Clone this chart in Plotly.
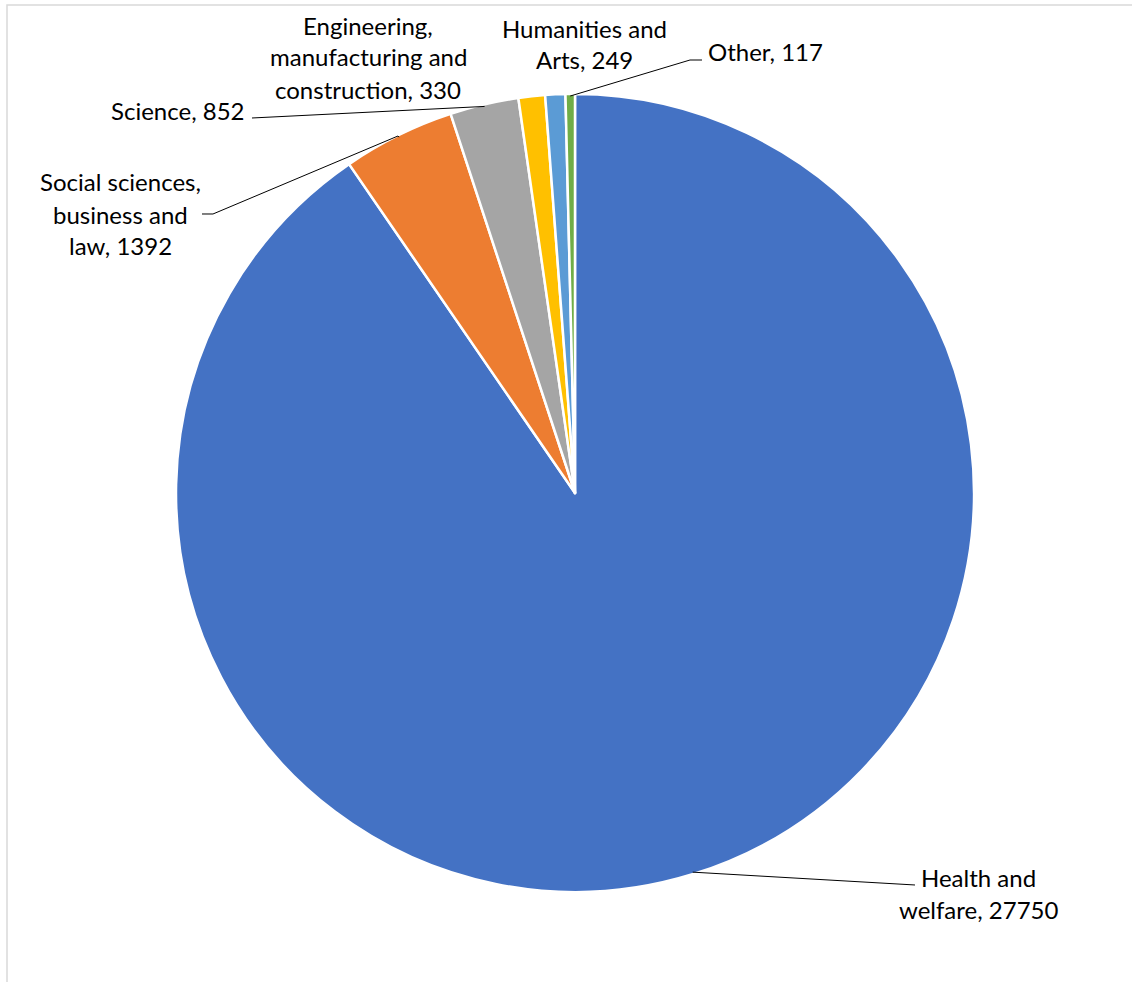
import math
import plotly.graph_objects as go

categories = ["Health and welfare", "Social sciences, business and law", "Science",
              "Engineering, manufacturing and construction", "Humanities and Arts", "Other"]
values = [27750, 1392, 852, 330, 249, 117]
colors = ["#4472C4", "#ED7D31", "#A5A5A5", "#FFC000", "#5B9BD5", "#70AD47"]
label_lines = [["Health and", "welfare, 27750"], ["Social sciences,", "business and", "law, 1392"],
               ["Science, 852"], ["Engineering,", "manufacturing and", "construction, 330"],
               ["Humanities and", "Arts, 249"], ["Other, 117"]]

W, H = 1132, 982
CX, CY, R = 575, 493, 397
LINE_H = 32

# label block centre positions in pixels (layout)
label_pos = [(978, 893), (120, 214), (178, 110), (368, 57), (584, 44), (765, 52)]
# leader line bend/end points (pixels), None -> no leader
leader_ends = [[(915, 885)], [(398, 136), (213, 214), (202, 214)], [(252, 118)],
               None, None, [(690, 60), (702, 60)]]

def px(x):
    return x / W

def py(y):
    return 1 - y / H

fig = go.Figure(go.Pie(
    labels=categories, values=values, sort=False, direction="clockwise", rotation=0,
    marker=dict(colors=colors, line=dict(color="white", width=2.5)),
    textinfo="none", hoverinfo="label+value", showlegend=False,
    domain=dict(x=[px(CX - R - 2), px(CX + R + 2)], y=[py(CY + R + 2), py(CY - R - 2)]),
))

total = sum(values)
cum = 0
shapes = []
annotations = []
for i, v in enumerate(values):
    mid = (cum + v / 2) / total
    cum += v
    theta = 2 * math.pi * mid
    ex = CX + R * math.sin(theta)
    ey = CY - R * math.cos(theta)
    if leader_ends[i]:
        pts = [(ex, ey)] + leader_ends[i]
        path = "M " + " L ".join(f"{px(a):.5f},{py(b):.5f}" for a, b in pts)
        shapes.append(dict(type="path", xref="paper", yref="paper", path=path,
                           line=dict(color="#000000", width=1)))
    lx, ly = label_pos[i]
    n = len(label_lines[i])
    for j, line in enumerate(label_lines[i]):
        yy = ly + (j - (n - 1) / 2) * LINE_H
        annotations.append(dict(x=px(lx), y=py(yy), xref="paper", yref="paper", text=line,
                                showarrow=False, xanchor="center", yanchor="middle", align="center",
                                font=dict(family="Lato, Carlito, sans-serif", size=24, color="#000000")))

# chart area border (partially cropped)
shapes.append(dict(type="rect", xref="paper", yref="paper", x0=px(7), x1=px(W + 20),
                   y0=py(H + 20), y1=py(5), line=dict(color="#D9D9D9", width=1.5),
                   fillcolor="rgba(0,0,0,0)"))

fig.update_layout(width=W, height=H, margin=dict(l=0, r=0, t=0, b=0),
                  paper_bgcolor="white", plot_bgcolor="white",
                  shapes=shapes, annotations=annotations)
fig.write_html("out.html")
